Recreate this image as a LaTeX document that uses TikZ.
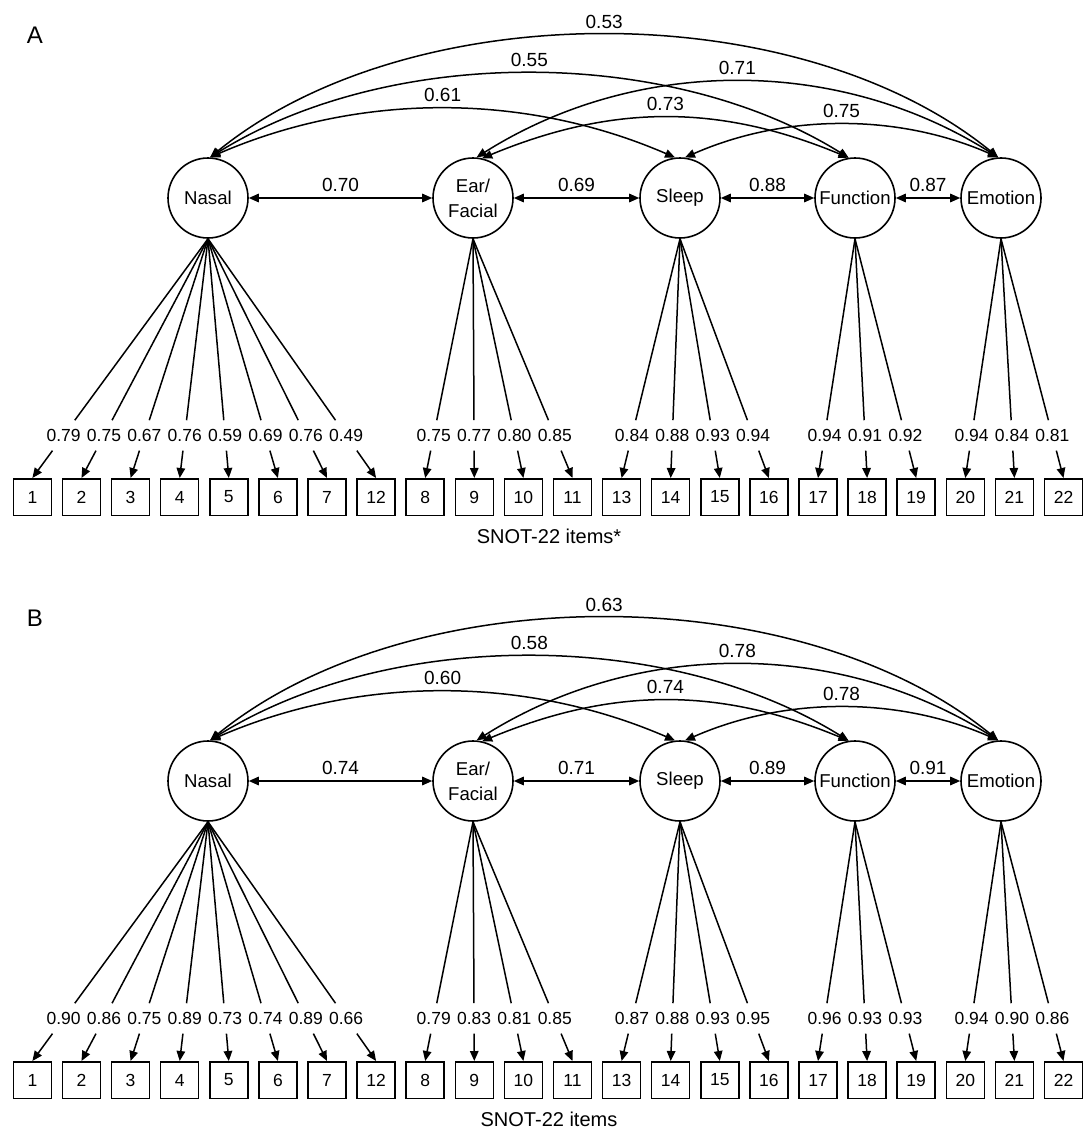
\documentclass[tikz,border=0pt]{standalone}
\usepackage{fontspec}
\setmainfont{Liberation Sans}
\usetikzlibrary{arrows.meta,calc}
\tikzset{
  hd/.tip={Triangle[length=10pt,width=8.5pt]},
  latent/.style={circle, draw, line width=1.6pt, minimum size=80pt, inner sep=0pt,
    font=\fontsize{18.6}{25}\selectfont, align=center},
  itembox/.style={rectangle, draw, line width=1.5pt, minimum width=38pt, minimum height=36.5pt,
    inner sep=0pt, font=\fontsize{17.5}{20}\selectfont},
  loadlab/.style={inner sep=0pt, minimum height=30pt, font=\fontsize{17.5}{20}\selectfont},
  corrlab/.style={inner sep=0pt, font=\fontsize{19}{22}\selectfont},
  conn/.style={line width=1.5pt},
  dbl/.style={conn, hd-hd},
  sgl/.style={conn, -hd},
  panellab/.style={inner sep=0pt, font=\fontsize{24}{24}\selectfont},
  snotlab/.style={inner sep=0pt, font=\fontsize{20}{20}\selectfont},
}
\newcommand\drawpanel[4]{%
\begin{scope}[shift={(0,#1)}]
  \node[panellab] (#2letter) at (35,35) {#3};
  \node[latent] (#2nasal) at (208,198) {Nasal};
  \node[latent] (#2ear) at (473,198) {Ear/\\Facial};
  \node[latent] (#2sleep) at (680,198) {Sleep};
  \node[latent] (#2function) at (855,198) {Function};
  \node[latent] (#2emotion) at (1001,198) {Emotion};
  % horizontal correlations
  \draw[dbl] (#2nasal) -- node[corrlab, above=5.5pt] (#2cne) {\cNEar} (#2ear);
  \draw[dbl] (#2ear) -- node[corrlab, above=5.5pt] (#2ces) {\cEarS} (#2sleep);
  \draw[dbl] (#2sleep) -- node[corrlab, above=5.5pt] (#2csf) {\cSF} (#2function);
  \draw[dbl] (#2function) -- node[corrlab, above=5.5pt] (#2cfe) {\cFE} (#2emotion);
  % curved correlations
  \draw[dbl] (#2nasal.87) .. controls +(200,-163) and +(-200,-163) ..
     node[corrlab, pos=0.5, above=6pt] (#2cnem) {\cNE} (#2emotion.94);
  \draw[dbl] (#2nasal.87) .. controls +(180,-112) and +(-180,-112) ..
     node[corrlab, pos=0.5, above=6pt] (#2cnf) {\cNF} (#2function.99);
  \draw[dbl] (#2nasal.87) .. controls +(150,-65) and +(-150,-65) ..
     node[corrlab, pos=0.5, above=6pt] (#2cns) {\cNS} (#2sleep.97);
  \draw[dbl] (#2ear.85) .. controls +(160,-101) and +(-160,-101) ..
     node[corrlab, pos=0.5, above=6pt] (#2ceem) {\cEE} (#2emotion.94);
  \draw[dbl] (#2ear.77) .. controls +(130,-54) and +(-130,-54) ..
     node[corrlab, pos=0.5, above=6pt] (#2cef) {\cEF} (#2function.99);
  \draw[dbl] (#2sleep.83) .. controls +(100,-44) and +(-100,-44) ..
     node[corrlab, pos=0.5, above=6pt] (#2cse) {\cSE} (#2emotion.94);
  % items and loadings
  \foreach \itm/\fac/\val [count=\k from 0] in \loadings {
    \pgfmathsetmacro\bx{32.4+49.1*\k}
    \node[itembox] (#2b\itm) at (\bx,497) {\itm};
    \node[loadlab] (#2l\itm) at ($(#2\fac.south)!0.822!(#2b\itm.north)$) {\val};
    \draw[conn] (#2\fac.south) -- (#2l\itm);
    \draw[sgl] (#2l\itm) -- (#2b\itm.north);
  }
  \node[snotlab] (#2snot) at (549,536) {#4};
\end{scope}}
\begin{document}
\begin{tikzpicture}[x=1pt,y=-1pt]
\useasboundingbox (0,0) rectangle (1082,1132);
% Panel A
\def\loadings{1/nasal/0.79, 2/nasal/0.75, 3/nasal/0.67, 4/nasal/0.76, 5/nasal/0.59, 6/nasal/0.69, 7/nasal/0.76, 12/nasal/0.49,
  8/ear/0.75, 9/ear/0.77, 10/ear/0.80, 11/ear/0.85,
  13/sleep/0.84, 14/sleep/0.88, 15/sleep/0.93, 16/sleep/0.94,
  17/function/0.94, 18/function/0.91, 19/function/0.92,
  20/emotion/0.94, 21/emotion/0.84, 22/emotion/0.81}
\def\cNEar{0.70}\def\cEarS{0.69}\def\cSF{0.88}\def\cFE{0.87}
\def\cNE{0.53}\def\cNF{0.55}\def\cNS{0.61}\def\cEE{0.71}\def\cEF{0.73}\def\cSE{0.75}
\drawpanel{0}{a}{A}{SNOT-22 items*}
% Panel B
\def\loadings{1/nasal/0.90, 2/nasal/0.86, 3/nasal/0.75, 4/nasal/0.89, 5/nasal/0.73, 6/nasal/0.74, 7/nasal/0.89, 12/nasal/0.66,
  8/ear/0.79, 9/ear/0.83, 10/ear/0.81, 11/ear/0.85,
  13/sleep/0.87, 14/sleep/0.88, 15/sleep/0.93, 16/sleep/0.95,
  17/function/0.96, 18/function/0.93, 19/function/0.93,
  20/emotion/0.94, 21/emotion/0.90, 22/emotion/0.86}
\def\cNEar{0.74}\def\cEarS{0.71}\def\cSF{0.89}\def\cFE{0.91}
\def\cNE{0.63}\def\cNF{0.58}\def\cNS{0.60}\def\cEE{0.78}\def\cEF{0.74}\def\cSE{0.78}
\drawpanel{583}{b}{B}{SNOT-22 items}
\end{tikzpicture}
\end{document}
